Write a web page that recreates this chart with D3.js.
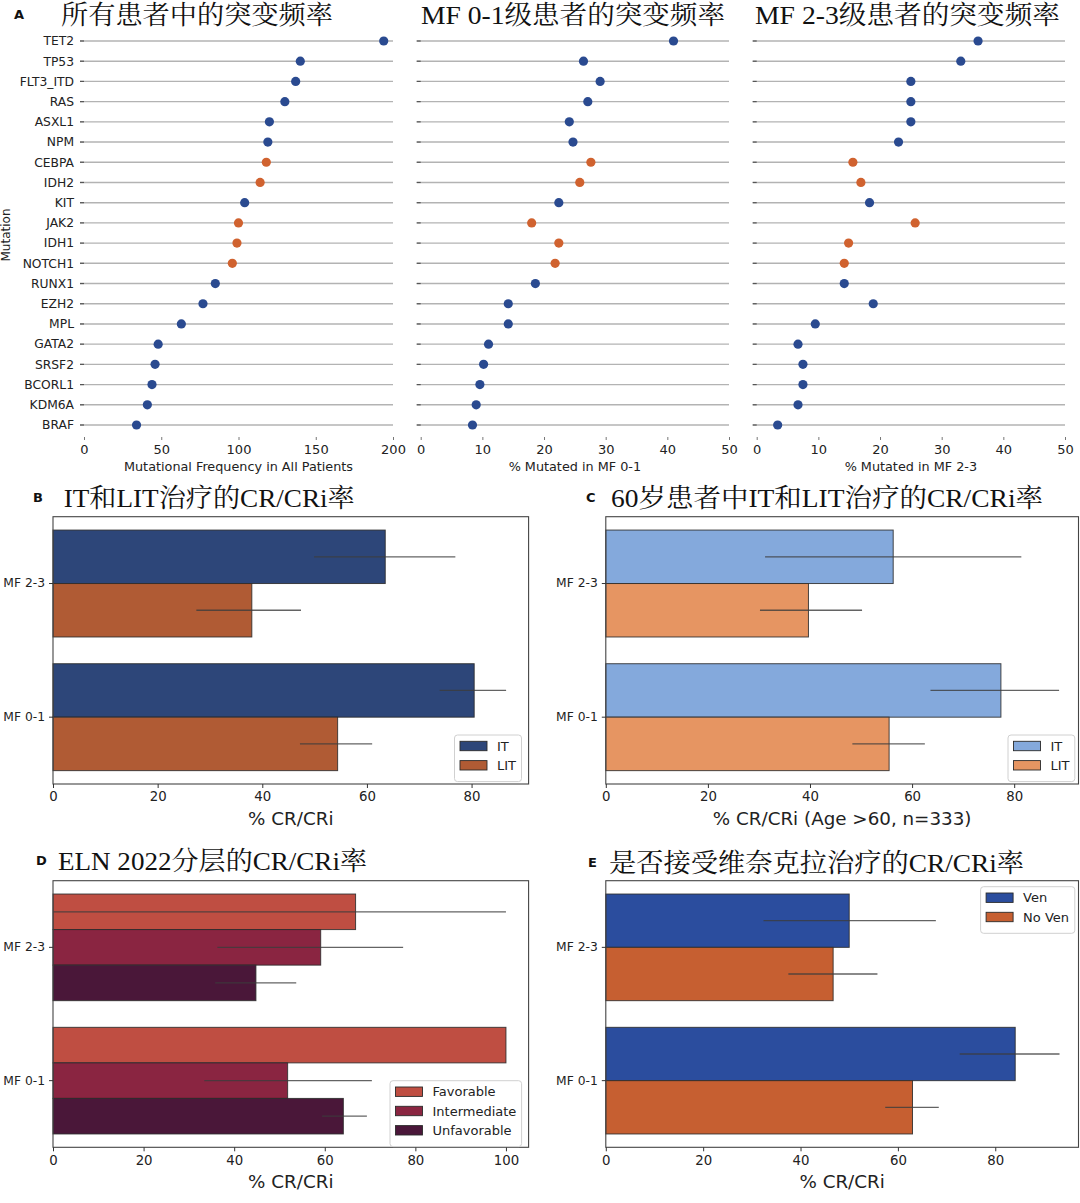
<!DOCTYPE html>
<html><head><meta charset="utf-8">
<script src="https://cdn.jsdelivr.net/npm/d3@7/dist/d3.min.js"></script>
<style>
html,body{margin:0;padding:0;background:#fff;}
svg{display:block;}
</style></head>
<body>
<svg id="chart" width="1080" height="1203"></svg>
<script>
// ---------- DATA ----------
const genes = ["TET2","TP53","FLT3_ITD","RAS","ASXL1","NPM","CEBPA","IDH2","KIT","JAK2","IDH1","NOTCH1","RUNX1","EZH2","MPL","GATA2","SRSF2","BCORL1","KDM6A","BRAF"];
const freqAll  = [194,140,137,130,120,119,118,114,104,100,99,96,85,77,63,48,46,44,41,34];
const freqMF01 = [41.0,26.4,29.1,27.1,24.1,24.7,27.6,25.8,22.4,18.0,22.4,21.8,18.6,14.2,14.2,11.0,10.2,9.6,9.0,8.4];
const freqMF23 = [35.9,33.1,25.0,25.0,25.0,23.0,15.6,16.9,18.3,25.7,14.9,14.2,14.2,18.9,9.5,6.7,7.5,7.5,6.7,3.4];
const highlightGenes = ["CEBPA","IDH2","JAK2","IDH1","NOTCH1"];
const ticksAll = [0,50,100,150,200];
const ticksMF = [0,10,20,30,40,50];

const mfGroups = ["MF 2-3","MF 0-1"];
// B: IT vs LIT
const bIT = [63.5,80.5], bITlo = [49.9,73.9], bIThi = [76.9,86.6];
const bLIT = [38.0,54.4], bLITlo = [27.4,47.2], bLIThi = [47.4,61.0];
// C: age > 60
const cIT = [56.3,77.4], cITlo = [31.2,63.6], cIThi = [81.4,88.8];
const cLIT = [39.7,55.5], cLITlo = [30.2,48.3], cLIThi = [50.2,62.5];
// D: ELN 2022
const dFav = [66.8,100], dFavlo = [0,100], dFavhi = [100,100];
const dInt = [59.1,51.8], dIntlo = [36.3,33.4], dInthi = [77.3,70.4];
const dUnf = [44.8,64.1], dUnflo = [35.8,59.4], dUnfhi = [53.7,69.3];
// E: Ven vs no Ven
const eVen = [50.0,84.1], eVenlo = [32.4,72.7], eVenhi = [67.8,93.2];
const eNo = [46.7,63.0], eNolo = [37.5,57.4], eNohi = [55.8,68.4];
const ticks80 = [0,20,40,60,80];
const ticks100 = [0,20,40,60,80,100];

// ---------- DRAW ----------
const svg = d3.select("#chart");
const SANS = '"DejaVu Sans", sans-serif';
const TITLE = '"Liberation Serif","Noto Serif CJK SC","Noto Sans CJK SC",serif';

function title(x, y, txt, len, letter, lx){
  svg.append("text").attr("x", x).attr("y", y).attr("font-family", TITLE)
     .attr("font-size", 26).attr("fill", "#111").attr("textLength", len)
     .attr("lengthAdjust", "spacingAndGlyphs").text(txt);
  if (letter) svg.append("text").attr("x", lx).attr("y", y - 5).attr("font-family", SANS)
     .attr("font-weight", "bold").attr("font-size", 13).attr("fill", "#111").text(letter);
}

// Lollipop-style dot panels
function dotPanel(cfg){
  const x = d3.scaleLinear().domain(cfg.domain).range([cfg.x0, cfg.x1]);
  const y = d3.scalePoint().domain(genes).range([41, 425]);
  const g = svg.append("g");
  genes.forEach((gn) => {
    g.append("line").attr("x1", cfg.x0 - 4).attr("x2", cfg.x1).attr("y1", y(gn)).attr("y2", y(gn))
      .attr("stroke", "#b3b3b3").attr("stroke-width", 1.4);
    g.append("line").attr("x1", cfg.x0 - 4).attr("x2", cfg.x0).attr("y1", y(gn)).attr("y2", y(gn))
      .attr("stroke", "#555").attr("stroke-width", 1.2);
  });
  if (cfg.labels) {
    g.selectAll("text.yl").data(genes).join("text").attr("class","yl")
      .attr("x", cfg.x0 - 10).attr("y", d => y(d)).attr("dy", "0.35em").attr("text-anchor", "end")
      .attr("font-family", SANS).attr("font-size", 12.3).attr("fill", "#222").text(d => d);
  }
  g.selectAll("circle").data(genes).join("circle")
    .attr("cx", (d,i) => x(cfg.values[i])).attr("cy", d => y(d)).attr("r", 4.6)
    .attr("fill", d => highlightGenes.includes(d) ? "#d0622f" : "#2a4a90");
  const ax = d3.axisBottom(x).tickValues(cfg.ticks).tickSize(3).tickPadding(5).tickFormat(d3.format("d"));
  const axg = g.append("g").attr("transform", "translate(0,437)").call(ax);
  axg.select(".domain").remove();
  axg.selectAll("line").attr("stroke", "#777");
  axg.selectAll("text").attr("font-family", SANS).attr("font-size", 13).attr("fill", "#222");
  g.append("text").attr("x", (cfg.x0 + cfg.x1) / 2).attr("y", 471).attr("text-anchor", "middle")
    .attr("font-family", SANS).attr("font-size", 12.8).attr("fill", "#222").text(cfg.xlabel);
}

dotPanel({x0: 84, x1: 393, domain: [0,200], values: freqAll, ticks: ticksAll, labels: true, xlabel: "Mutational Frequency in All Patients"});
dotPanel({x0: 420.7, x1: 729, domain: [0,50], values: freqMF01, ticks: ticksMF, labels: false, xlabel: "% Mutated in MF 0-1"});
dotPanel({x0: 756.7, x1: 1065, domain: [0,50], values: freqMF23, ticks: ticksMF, labels: false, xlabel: "% Mutated in MF 2-3"});
svg.append("text").attr("transform", "translate(10,235) rotate(-90)").attr("text-anchor", "middle")
  .attr("font-family", SANS).attr("font-size", 12).attr("fill", "#222").text("Mutation");

title(61, 24, "所有患者中的突变频率", 272, "A", 14);
title(421, 24, "MF 0-1级患者的突变频率", 304, null);
title(755, 24, "MF 2-3级患者的突变频率", 305, null);

// Grouped horizontal bar panels
function barPanel(cfg){
  const g = svg.append("g");
  const x = d3.scaleLinear().domain([0, cfg.xmax]).range([cfg.left, cfg.right]);
  const y = d3.scaleBand().domain(mfGroups).range([cfg.top, cfg.bottom]).paddingInner(0.2).paddingOuter(0.1);
  const names = cfg.series.map(s => s.name);
  const ys = d3.scaleBand().domain(names).range([0, y.bandwidth()]);
  cfg.series.forEach(s => {
    mfGroups.forEach((grp, i) => {
      const yy = y(grp) + ys(s.name);
      g.append("rect").attr("x", x(0)).attr("y", yy).attr("width", x(s.values[i]) - x(0))
        .attr("height", ys.bandwidth()).attr("fill", s.color).attr("stroke", "#2a2a2a")
        .attr("stroke-opacity", 0.85).attr("stroke-width", 1);
    });
  });
  cfg.series.forEach(s => {
    mfGroups.forEach((grp, i) => {
      const yy = y(grp) + ys(s.name) + ys.bandwidth() / 2;
      if (s.hi[i] > s.lo[i]) g.append("line").attr("x1", x(s.lo[i])).attr("x2", x(s.hi[i]))
        .attr("y1", yy).attr("y2", yy).attr("stroke", "#3c3c3c").attr("stroke-opacity", 0.8).attr("stroke-width", 1.3);
    });
  });
  g.append("rect").attr("x", cfg.left).attr("y", cfg.top).attr("width", cfg.right - cfg.left)
    .attr("height", cfg.bottom - cfg.top).attr("fill", "none").attr("stroke", "#444").attr("stroke-width", 1.1);
  const ax = d3.axisBottom(x).tickValues(cfg.ticks).tickSize(4).tickPadding(4).tickFormat(d3.format("d"));
  const axg = g.append("g").attr("transform", `translate(0,${cfg.bottom})`).call(ax);
  axg.select(".domain").remove();
  axg.selectAll("line").attr("stroke", "#333");
  axg.selectAll("text").attr("font-family", SANS).attr("font-size", 13.3).attr("fill", "#222");
  const ay = d3.axisLeft(y).tickSize(4).tickPadding(4);
  const ayg = g.append("g").attr("transform", `translate(${cfg.left},0)`).call(ay);
  ayg.select(".domain").remove();
  ayg.selectAll("line").attr("stroke", "#333");
  ayg.selectAll("text").attr("font-family", SANS).attr("font-size", 12.3).attr("fill", "#222");
  g.append("text").attr("x", (cfg.left + cfg.right) / 2).attr("y", cfg.bottom + 41).attr("text-anchor", "middle")
    .attr("font-family", SANS).attr("font-size", 18.3).attr("fill", "#222").text(cfg.xlabel);
  // legend
  const L = cfg.legend;
  const lg = g.append("g");
  lg.append("rect").attr("x", L.x).attr("y", L.y).attr("width", L.w).attr("height", 8 + cfg.series.length * 19.3)
    .attr("rx", 3).attr("fill", "#fff").attr("fill-opacity", 0.85).attr("stroke", "#d0d0d0");
  cfg.series.forEach((s, i) => {
    const cy = L.y + 11 + i * 19.3;
    lg.append("rect").attr("x", L.x + 5.5).attr("y", cy - 4.7).attr("width", 27).attr("height", 9.4)
      .attr("fill", s.color).attr("stroke", "#2a2a2a").attr("stroke-width", 0.9);
    lg.append("text").attr("x", L.x + 42.5).attr("y", cy).attr("dy", "0.35em")
      .attr("font-family", SANS).attr("font-size", 13).attr("fill", "#222").text(s.name);
  });
}

barPanel({left: 53, right: 528.6, top: 516.7, bottom: 784, xmax: 90.9, ticks: ticks80, xlabel: "% CR/CRi",
  legend: {x: 454.5, y: 735, w: 67},
  series: [
    {name: "IT", values: bIT, lo: bITlo, hi: bIThi, color: "#2d4679"},
    {name: "LIT", values: bLIT, lo: bLITlo, hi: bLIThi, color: "#b05b34"}
  ]});
barPanel({left: 605.8, right: 1078.5, top: 516.7, bottom: 784, xmax: 92.6, ticks: ticks80, xlabel: "% CR/CRi (Age >60, n=333)",
  legend: {x: 1008, y: 735, w: 66.8},
  series: [
    {name: "IT", values: cIT, lo: cITlo, hi: cIThi, color: "#84a9dc"},
    {name: "LIT", values: cLIT, lo: cLITlo, hi: cLIThi, color: "#e69562"}
  ]});
barPanel({left: 53, right: 528.6, top: 880.7, bottom: 1147.3, xmax: 105, ticks: ticks100, xlabel: "% CR/CRi",
  legend: {x: 390, y: 1080.7, w: 131.6},
  series: [
    {name: "Favorable", values: dFav, lo: dFavlo, hi: dFavhi, color: "#bf4e42"},
    {name: "Intermediate", values: dInt, lo: dIntlo, hi: dInthi, color: "#8a2541"},
    {name: "Unfavorable", values: dUnf, lo: dUnflo, hi: dUnfhi, color: "#4a1739"}
  ]});
barPanel({left: 605.8, right: 1078.5, top: 880.7, bottom: 1147.3, xmax: 97.1, ticks: ticks80, xlabel: "% CR/CRi",
  legend: {x: 980.6, y: 886.7, w: 94.2},
  series: [
    {name: "Ven", values: eVen, lo: eVenlo, hi: eVenhi, color: "#2b4d9e"},
    {name: "No Ven", values: eNo, lo: eNolo, hi: eNohi, color: "#c65f31"}
  ]});

title(63.7, 507, "IT和LIT治疗的CR/CRi率", 291, "B", 33);
title(611, 507, "60岁患者中IT和LIT治疗的CR/CRi率", 432, "C", 586);
title(58, 870, "ELN 2022分层的CR/CRi率", 309, "D", 36);
title(609, 872, "是否接受维奈克拉治疗的CR/CRi率", 415, "E", 588);
</script>
</body></html>
